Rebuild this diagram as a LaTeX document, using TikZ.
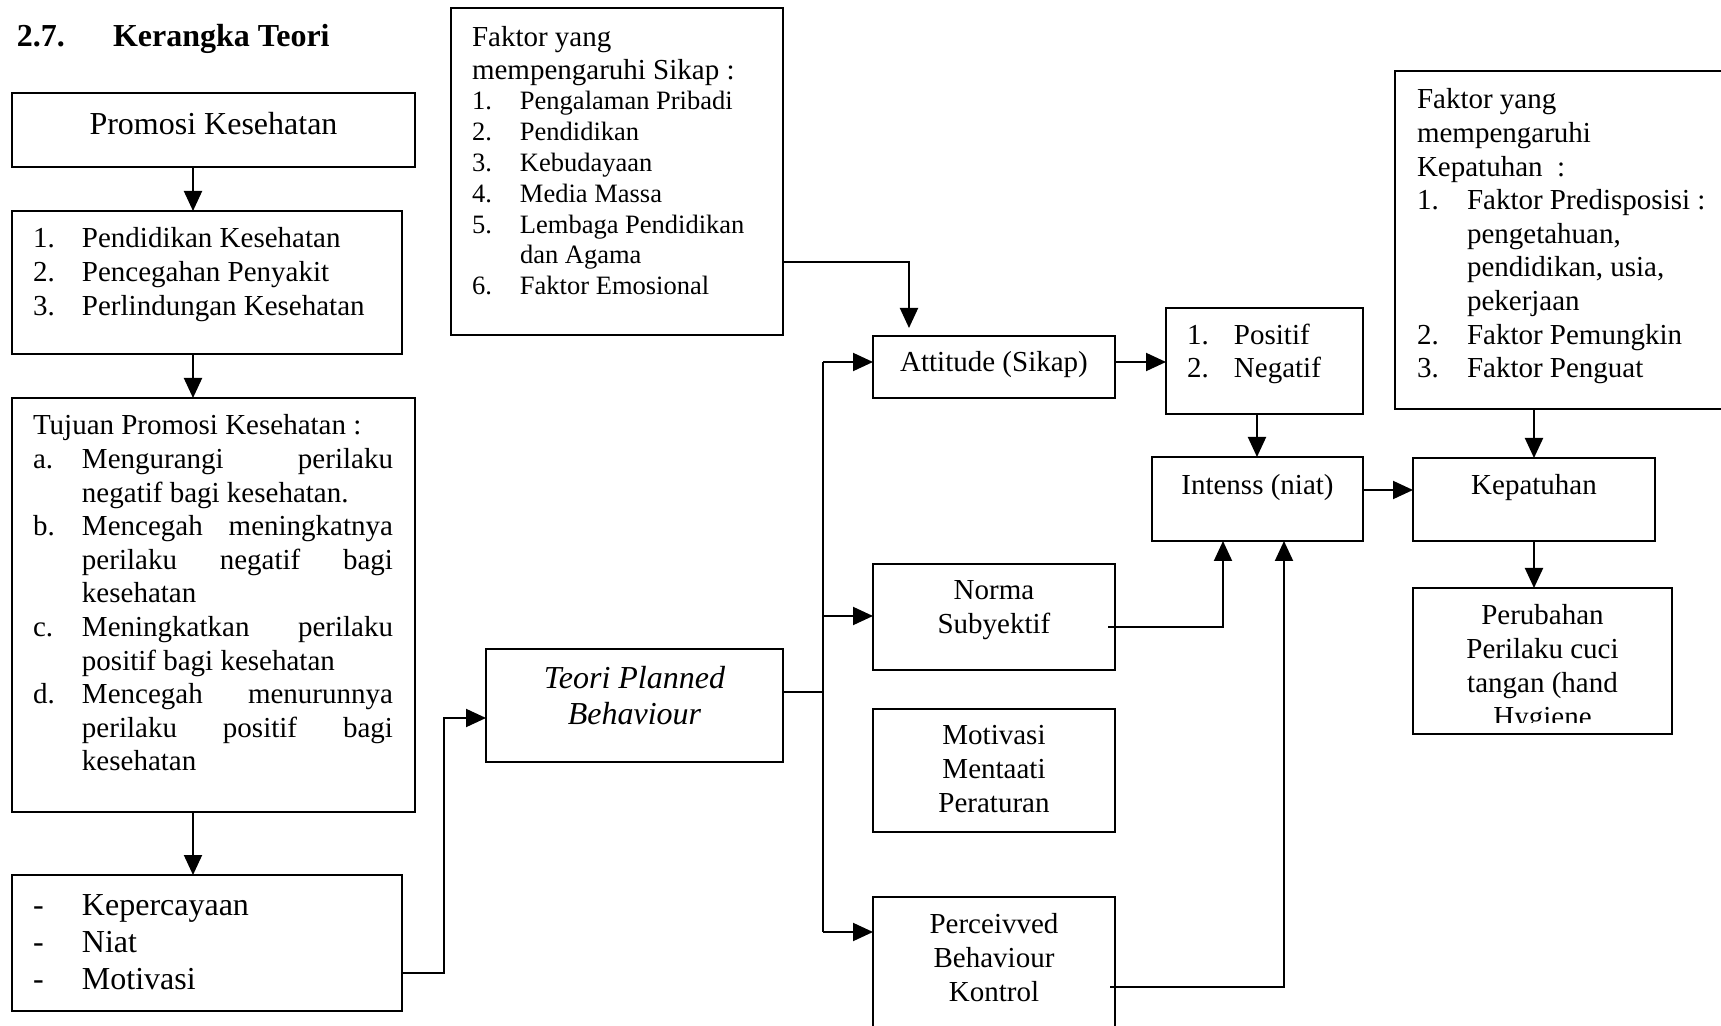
\documentclass[tikz,border=0pt]{standalone}
\usepackage{fontspec}
\setmainfont{Liberation Serif}
\usetikzlibrary{arrows.meta,fit}
\newcommand\lb[2][24.5pt]{\makebox[#1][l]{#2}}
\newcommand\jl[1]{\makebox[155.5pt][s]{#1}}
\newcommand\myfa{\fontsize{14.5}{16.8}\selectfont}
\newcommand\mybig{\fontsize{16}{18.4}\selectfont}
\tikzset{
  box/.style={draw, line width=0.8pt, inner sep=0pt, outer sep=0pt},
  txt/.style={inner sep=0pt, outer sep=0pt},
  arr/.style={line width=1pt, -{Triangle[length=10pt,width=9pt]}},
  ln/.style={line width=0.7pt},
}
\begin{document}
\begin{tikzpicture}[x=0.5pt,y=-0.5pt]
\useasboundingbox (0,0) rectangle (1721,1026);
\fill[white] (0,0) rectangle (1721,1026);
\begin{scope}
\clip (0,0) rectangle (1721,1026);
% title
\node[txt,anchor=base west] (num) at (17,47) {\mybig\bfseries 2.7.};
\node[txt,anchor=base west] (title) at (113,47) {\mybig\bfseries Kerangka Teori};
% boxes
\node[box, fit={(12,93) (415,167)}] (promosi) {};
\node[box, fit={(12,211) (402,354)}] (list) {};
\node[box, fit={(12,398) (415,812)}] (tujuan) {};
\node[box, fit={(12,875) (402,1011)}] (kep) {};
\node[box, fit={(486,649) (783,762)}] (teori) {};
\node[box, fit={(451,8) (783,335)}] (sikapf) {};
\node[box, fit={(873,336) (1115,398)}] (att) {};
\node[box, fit={(1166,308) (1363,414)}] (pos) {};
\node[box, fit={(1152,457) (1363,541)}] (int) {};
\node[box, fit={(873,564) (1115,670)}] (norma) {};
\node[box, fit={(873,709) (1115,832)}] (motiv) {};
\node[box, fit={(873,897) (1115,1045)}] (perc) {};
\node[box, fit={(1395,71) (1745,409)}] (kepf) {};
\node[box, fit={(1413,458) (1655,541)}] (kpt) {};
\node[box, fit={(1413,588) (1672,734)}] (per) {};
% texts
\node[txt,anchor=base] (promosi-t) at (213.5,135) {\mybig Promosi Kesehatan};
\node[txt,anchor=base west] (list-t) at (33,248) {\parbox[t]{190pt}{\myfa
  \lb{1.}Pendidikan Kesehatan\\
  \lb{2.}Pencegahan Penyakit\\
  \lb{3.}Perlindungan Kesehatan}};
\node[txt,anchor=base west] (tujuan-t) at (33,435) {\parbox[t]{185pt}{\myfa
  Tujuan Promosi Kesehatan :\\
  \lb{a.}\jl{Mengurangi perilaku}\\
  \lb{}negatif bagi kesehatan.\\
  \lb{b.}\jl{Mencegah meningkatnya}\\
  \lb{}\jl{perilaku negatif bagi}\\
  \lb{}kesehatan\\
  \lb{c.}\jl{Meningkatkan perilaku}\\
  \lb{}positif bagi kesehatan\\
  \lb{d.}\jl{Mencegah menurunnya}\\
  \lb{}\jl{perilaku positif bagi}\\
  \lb{}kesehatan}};
\node[txt,anchor=base west] (kep-t) at (33,915) {\parbox[t]{185pt}{\fontsize{16}{18.5}\selectfont
  \lb{-}Kepercayaan\\
  \lb{-}Niat\\
  \lb{-}Motivasi}};
\node[txt,anchor=base] (teori-t) at (634.5,689) {\parbox[t]{140pt}{\centering\fontsize{16}{18}\selectfont\itshape
  Teori Planned\\Behaviour}};
\node[txt,anchor=base west] (sikapf-h) at (472,47) {\parbox[t]{160pt}{\fontsize{14.5}{16.5}\selectfont
  Faktor yang\\mempengaruhi Sikap :}};
\node[txt,anchor=base west] (sikapf-t) at (472,110) {\parbox[t]{160pt}{\fontsize{13.25}{15.4}\selectfont
  \lb[24pt]{1.}Pengalaman Pribadi\\
  \lb[24pt]{2.}Pendidikan\\
  \lb[24pt]{3.}Kebudayaan\\
  \lb[24pt]{4.}Media Massa\\
  \lb[24pt]{5.}Lembaga Pendidikan\\
  \lb[24pt]{}dan Agama\\
  \lb[24pt]{6.}Faktor Emosional}};
\node[txt,anchor=base] (att-t) at (994,372) {\myfa Attitude (Sikap)};
\node[txt,anchor=base west] (pos-t) at (1187,345) {\parbox[t]{90pt}{\fontsize{14.5}{16.5}\selectfont
  \lb[23.5pt]{1.}Positif\\
  \lb[23.5pt]{2.}Negatif}};
\node[txt,anchor=base] (int-t) at (1257.5,495) {\myfa Intenss (niat)};
\node[txt,anchor=base] (norma-t) at (994,600) {\parbox[t]{110pt}{\centering\fontsize{14.5}{17}\selectfont
  Norma\\Subyektif}};
\node[txt,anchor=base] (motiv-t) at (994,745) {\parbox[t]{110pt}{\centering\fontsize{14.5}{17}\selectfont
  Motivasi\\Mentaati\\Peraturan}};
\node[txt,anchor=base] (perc-t) at (994,933) {\parbox[t]{110pt}{\centering\fontsize{14.5}{17.25}\selectfont
  Perceivved\\Behaviour\\Kontrol}};
\node[txt,anchor=base west] (kepf-t) at (1417,109) {\parbox[t]{160pt}{\myfa
  Faktor yang\\
  mempengaruhi\\
  Kepatuhan\ \ :\\
  \lb[25pt]{1.}Faktor Predisposisi :\\
  \lb[25pt]{}pengetahuan,\\
  \lb[25pt]{}pendidikan, usia,\\
  \lb[25pt]{}pekerjaan\\
  \lb[25pt]{2.}Faktor Pemungkin\\
  \lb[25pt]{3.}Faktor Penguat}};
\node[txt,anchor=base] (kpt-t) at (1534,495) {\myfa Kepatuhan};
\begin{scope}
\clip (1413,588) rectangle (1672,723);
\node[txt,anchor=base] (per-t) at (1542.5,625) {\parbox[t]{125pt}{\centering\fontsize{14.5}{17}\selectfont
  Perubahan\\Perilaku cuci\\tangan (hand\\Hygiene}};
\end{scope}
% connectors
\coordinate (ax) at (193,0);
\draw[arr] (promosi.south -| ax) -- (list.north -| ax);
\draw[arr] (list.south -| ax) -- (tujuan.north -| ax);
\draw[arr] (tujuan.south -| ax) -- (kep.north -| ax);
\coordinate (kb) at (444,973);
\coordinate (kt) at (444,718);
\draw[arr] (kep.east |- kb) -- (kb) -- (kt) -- (teori.west |- kt);
\coordinate (tb) at (823,692);
\coordinate (bt) at (823,362);
\coordinate (bn) at (823,616);
\coordinate (bb) at (823,932);
\draw[ln] (teori.east |- tb) -- (tb);
\draw[ln] (bt) -- (bb);
\draw[arr] (bt) -- (att.west |- bt);
\draw[arr] (bn) -- (norma.west |- bn);
\draw[arr] (bb) -- (perc.west |- bb);
\coordinate (s0) at (783,193);
\coordinate (s1) at (909,262);
\draw[line width=1.2pt] (s0) -- (sikapf.east |- s1);
\draw[arr, shorten >=4pt] (sikapf.east |- s1) -- (s1) -- (att.north -| s1);
\coordinate (ap) at (0,362);
\draw[arr] (att.east |- ap) -- (pos.west |- ap);
\coordinate (ix) at (1257,0);
\draw[arr] (pos.south -| ix) -- (int.north -| ix);
\coordinate (n0) at (1108,627);
\coordinate (n1) at (1223,627);
\draw[arr] (n0) -- (n1) -- (int.south -| n1);
\coordinate (p0) at (1110,987);
\coordinate (p1) at (1284,987);
\draw[arr] (p0) -- (p1) -- (int.south -| p1);
\coordinate (ky) at (0,490);
\draw[arr] (int.east |- ky) -- (kpt.west |- ky);
\coordinate (kx) at (1534,0);
\draw[arr] (kepf.south -| kx) -- (kpt.north -| kx);
\draw[arr] (kpt.south -| kx) -- (per.north -| kx);
\end{scope}
\end{tikzpicture}
\end{document}
